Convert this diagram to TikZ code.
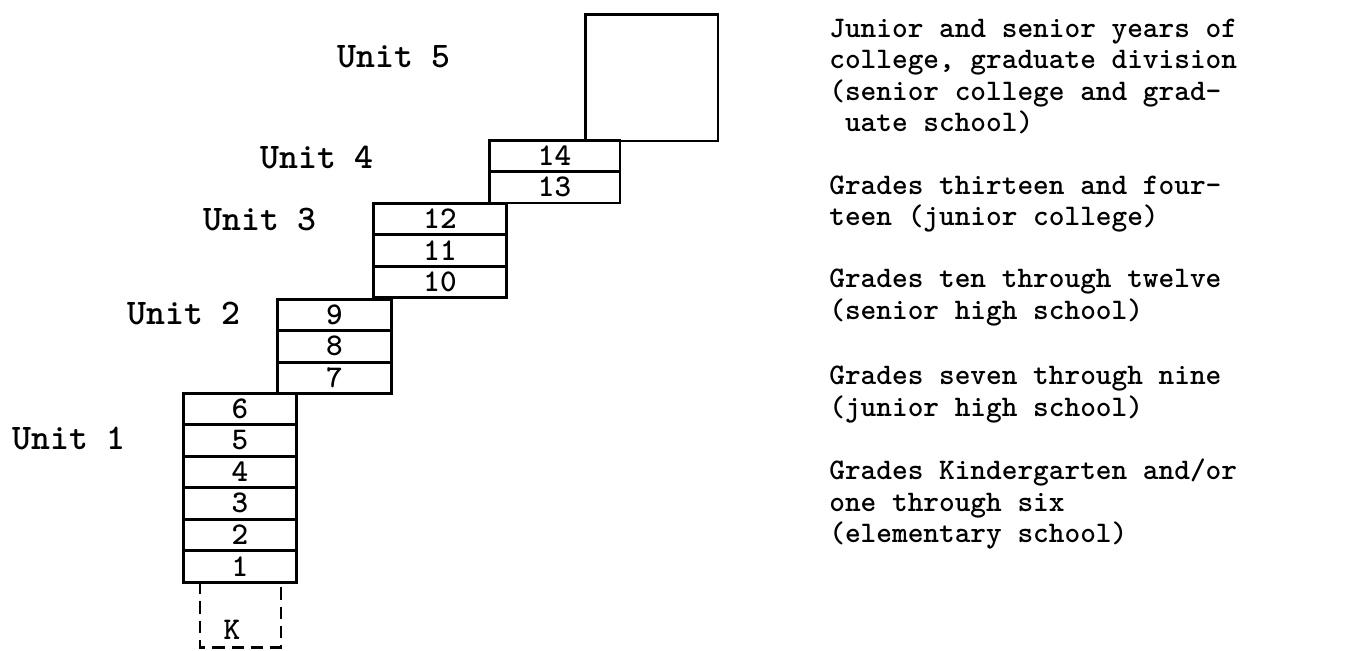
\documentclass[tikz,border=0pt]{standalone}
\usepackage{tikz}
\usetikzlibrary{positioning}

\begin{document}
\begin{tikzpicture}[
    x=0.02cm, y=-0.02cm,
    grade/.style={draw, line width=1.7pt, inner sep=0pt, minimum height=0.63cm, font=\fontsize{18}{18}\selectfont\ttfamily\bfseries},
    unitlabel/.style={anchor=west, inner sep=0pt, font=\fontsize{20.5}{20.5}\selectfont\ttfamily\bfseries},
    note/.style={anchor=west, align=left, inner sep=0pt, font=\fontsize{17}{17.9}\selectfont\ttfamily\bfseries}
]
    \useasboundingbox (0,0) rectangle (1349,650);

    % --- Unit 1 ---
    \node[unitlabel] (u1) at (12,438) {Unit 1};
    \node[grade, minimum width=2.28cm] (g6) at (240,408.75) {6};
    \node[grade, minimum width=2.28cm] (g5) at (240,440.25) {5};
    \node[grade, minimum width=2.28cm] (g4) at (240,471.75) {4};
    \node[grade, minimum width=2.28cm] (g3) at (240,503.25) {3};
    \node[grade, minimum width=2.28cm] (g2) at (240,534.75) {2};
    \node[grade, minimum width=2.28cm] (g1) at (240,566.25) {1};
    % kindergarten (optional)
    \draw[line width=1.7pt, dash pattern=on 7pt off 4pt] (200,582) -- (200,647) -- (281,647) -- (281,582);
    \node[font=\fontsize{18}{18}\selectfont\ttfamily\bfseries, inner sep=0pt] (k) at (232,630) {K};

    % --- Unit 2 ---
    \node[unitlabel] (u2) at (127,313) {Unit 2};
    \node[grade, minimum width=2.30cm] (g9) at (334.5,314.75) {9};
    \node[grade, minimum width=2.30cm] (g8) at (334.5,346.25) {8};
    \node[grade, minimum width=2.30cm] (g7) at (334.5,377.75) {7};

    % --- Unit 3 ---
    \node[unitlabel] (u3) at (203,219) {Unit 3};
    \node[grade, minimum width=2.68cm] (g12) at (440,218.75) {12};
    \node[grade, minimum width=2.68cm] (g11) at (440,250.25) {11};
    \node[grade, minimum width=2.68cm] (g10) at (440,281.75) {10};

    % --- Unit 4 ---
    \node[unitlabel] (u4) at (260,157) {Unit 4};
    \node[grade, minimum width=2.62cm] (g14) at (554.5,155.75) {14};
    \node[grade, minimum width=2.62cm] (g13) at (554.5,187.25) {13};

    % --- Unit 5 ---
    \node[unitlabel] (u5) at (337,57) {Unit 5};
    \node[grade, minimum width=2.66cm, minimum height=2.54cm] (g15) at (651.5,77.5) {};

    % --- Descriptions ---
    \node[note] (d5) at (829,76.5) {Junior and senior years of\\college, graduate division\\(senior college and grad-\\~uate school)};
    \node[note] (d4) at (829,204) {Grades thirteen and four-\\teen (junior college)};
    \node[note] (d3) at (829,297.5) {Grades ten through twelve\\(senior high school)};
    \node[note] (d2) at (829,394.5) {Grades seven through nine\\(junior high school)};
    \node[note] (d1) at (829,504) {Grades Kindergarten and/or\\one through six\\(elementary school)};
\end{tikzpicture}
\end{document}
